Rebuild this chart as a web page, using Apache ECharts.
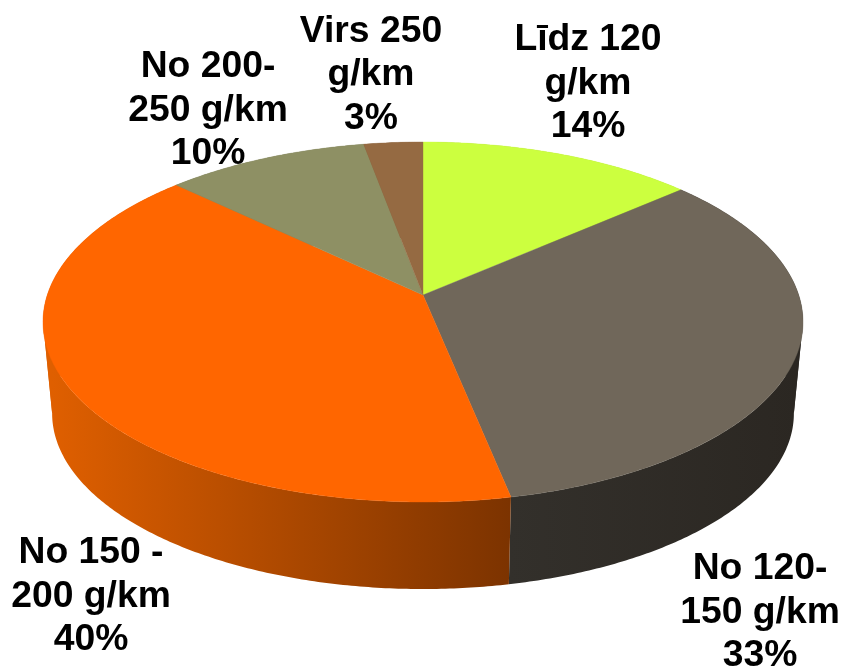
<!DOCTYPE html>
<html><head><meta charset="utf-8">
<style>html,body{margin:0;padding:0;background:#fff}#c{width:844px;height:668px}</style>
<script src="https://cdn.jsdelivr.net/npm/echarts@6/dist/echarts.min.js"></script>
</head><body><div id="c"></div>
<script>
const categories = ['Līdz 120\ng/km', 'No 120-\n150 g/km', 'No 150 -\n200 g/km', 'No 200-\n250 g/km', 'Virs 250\ng/km'];
const values = [13.6, 33.2, 40.3, 10, 2.9];
const topColors = ['#CCFF3F', '#70675A', '#FF6600', '#8E9064', '#956A42'];
const wallStops = [['#A3CC32','#A3CC32'], ['#33302B','#2B2722'], ['#DF5F00','#7C3300'], ['#6F7050','#6F7050'], ['#775535','#775535']];
const wallRanges = [[423, 800], [510, 800], [52, 510], [52, 423], [52, 423]];
const labelCenters = [[588, 83.5], [760, 612.5], [91, 596.5], [208, 110.5], [371, 75]];

const CX = 423, TOP_Y = 295, BOTTOM_Y = 387, K = 0.15, A = 375.7, B = 175.95, LOWER = 0.976;
const SILHOUETTE = [Math.PI - Math.acos(K), Math.PI + Math.acos(K)];
const total = values.reduce((a, b) => a + b, 0);

function project(theta, y0, s) {
  const u = Math.sin(theta), v = Math.cos(theta), w = 1 + K * v;
  return [CX + s * A * u / w, y0 - s * B * v / w];
}
function arc(a0, a1, y0, s) {
  const n = Math.max(2, Math.ceil((a1 - a0) / 0.01)), pts = [];
  for (let i = 0; i <= n; i++) pts.push(project(a0 + (a1 - a0) * i / n, y0, s));
  return pts;
}
function renderItem(params, api) {
  const i = params.dataIndex;
  let before = 0;
  for (let j = 0; j < i; j++) before += values[j];
  const a0 = before / total * 2 * Math.PI;
  const a1 = (before + api.value(0)) / total * 2 * Math.PI;
  const children = [];
  const cuts = [a0].concat(SILHOUETTE.filter(t => t > a0 && t < a1), [a1]);
  for (let c = 0; c < cuts.length - 1; c++) {
    const points = arc(cuts[c], cuts[c + 1], TOP_Y, 1).concat(arc(cuts[c], cuts[c + 1], BOTTOM_Y, LOWER).reverse());
    children.push({
      type: 'polygon', z2: 1, shape: { points },
      style: { fill: new echarts.graphic.LinearGradient(wallRanges[i][0], 0, wallRanges[i][1], 0,
        [{ offset: 0, color: wallStops[i][0] }, { offset: 1, color: wallStops[i][1] }], true),
        stroke: null }
    });
  }
  children.push({
    type: 'polygon', z2: 2,
    shape: { points: [[CX, TOP_Y]].concat(arc(a0, a1, TOP_Y, 1)) },
    style: { fill: topColors[i], stroke: topColors[i], lineWidth: 0.4 }
  });
  children.push({
    type: 'text', z2: 3,
    style: {
      x: labelCenters[i][0], y: labelCenters[i][1],
      text: categories[i] + '\n' + Math.round(api.value(0)) + '%',
      align: 'center', verticalAlign: 'middle',
      fontFamily: '"Liberation Sans", Arial, sans-serif', fontWeight: 'bold', fontSize: 37.3,
      lineHeight: 43.5, fill: '#000'
    }
  });
  return { type: 'group', children };
}
const chart = echarts.init(document.getElementById('c'), null, { renderer: 'canvas' });
chart.setOption({
  animation: false,
  backgroundColor: '#fff',
  series: [{
    type: 'custom',
    coordinateSystem: 'none',
    renderItem,
    data: values.map((v, i) => ({ name: categories[i], value: v }))
  }]
});
</script></body></html>
